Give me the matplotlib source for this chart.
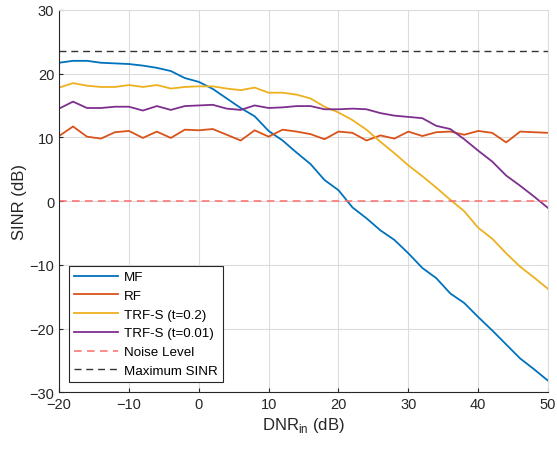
import numpy as np
import matplotlib
matplotlib.use("Agg")
import matplotlib.pyplot as plt

plt.rcParams['font.family'] = ['Liberation Sans', 'DejaVu Sans']

dnr = list(range(-20, 51, 2))
mf = [21.7, 22.0, 22.0, 21.7, 21.6, 21.5, 21.25, 20.9, 20.4, 19.3, 18.7, 17.6, 16.1, 14.6,
      13.3, 11.0, 9.5, 7.6, 5.8, 3.3, 1.7, -1.0, -2.7, -4.6, -6.1, -8.2, -10.5, -12.1,
      -14.5, -16.0, -18.2, -20.3, -22.5, -24.7, -26.4, -28.2]
rf = [10.2, 11.7, 10.1, 9.8, 10.8, 11.0, 9.9, 10.9, 9.9, 11.2, 11.1, 11.3, 10.4, 9.5,
      11.1, 10.1, 11.2, 10.9, 10.5, 9.7, 10.9, 10.7, 9.5, 10.3, 9.8, 10.9, 10.2, 10.8,
      10.9, 10.4, 11.0, 10.7, 9.2, 10.9, 10.8, 10.7]
trf02 = [17.8, 18.5, 18.1, 17.9, 17.9, 18.2, 17.9, 18.2, 17.65, 17.9, 18.0, 18.0, 17.65, 17.4,
         17.8, 17.0, 17.0, 16.7, 16.1, 14.8, 13.9, 12.7, 11.2, 9.3, 7.5, 5.6, 3.9, 2.1,
         0.2, -1.6, -4.2, -5.9, -8.2, -10.3, -12.0, -13.8]
trf001 = [14.5, 15.6, 14.6, 14.6, 14.8, 14.8, 14.2, 14.9, 14.3, 14.9, 15.0, 15.1, 14.5, 14.3,
          15.0, 14.6, 14.7, 14.9, 14.9, 14.4, 14.4, 14.5, 14.4, 13.8, 13.4, 13.2, 13.0, 11.8,
          11.3, 9.7, 7.9, 6.2, 4.0, 2.4, 0.7, -1.1]
noise_level = 0.0
max_sinr = 23.5

fig = plt.figure(figsize=(5.57, 4.52), dpi=100)
ax = fig.add_axes([0.106, 0.130, 0.878, 0.846])

ax.plot(dnr, mf, color='#0072BD', lw=1.3, label='MF')
ax.plot(dnr, rf, color='#D95319', lw=1.3, label='RF')
ax.plot(dnr, trf02, color='#EDB120', lw=1.3, label='TRF-S (t=0.2)')
ax.plot(dnr, trf001, color='#7E2F8E', lw=1.3, label='TRF-S (t=0.01)')
ax.axhline(noise_level, color='#FF6B6B', lw=1.1, ls=(0, (5, 3.5)), label='Noise Level')
ax.axhline(max_sinr, color='#333333', lw=1.0, ls=(0, (5, 3.5)), label='Maximum SINR')

ax.set_xlim(-20, 50)
ax.set_ylim(-30, 30)
ax.set_xticks(range(-20, 51, 10))
ax.set_yticks(range(-30, 31, 10))
ax.grid(True, color='#DCDCDC', lw=0.8)
ax.set_axisbelow(True)
for s in ['top', 'right']:
    ax.spines[s].set_color('#DCDCDC')
for s in ['left', 'bottom']:
    ax.spines[s].set_color('#262626')
    ax.spines[s].set_linewidth(0.8)
ax.tick_params(direction='in', length=3, labelsize=10.5, colors='#262626', top=False, right=False)
ax.set_xlabel('DNR$_{\\mathregular{in}}$ (dB)', fontsize=12, color='#262626', labelpad=3)
ax.set_ylabel('SINR (dB)', fontsize=12, color='#262626', labelpad=2)

leg = ax.legend(loc='lower left', bbox_to_anchor=(0.02, 0.026), fontsize=9.6,
                handlelength=3.3, handletextpad=0.45, borderpad=0.4, labelspacing=0.48,
                borderaxespad=0.0,
                fancybox=False, framealpha=1, edgecolor='#262626')
leg.get_frame().set_linewidth(0.8)

fig.savefig('out.png', dpi=100)
